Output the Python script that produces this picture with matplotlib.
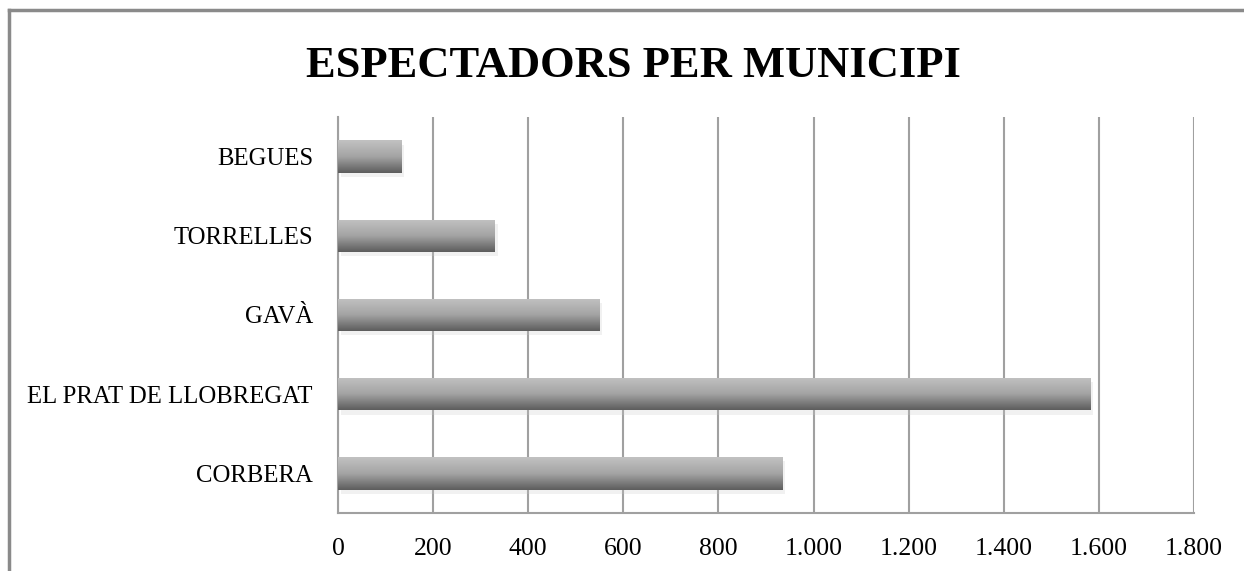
import numpy as np
import matplotlib
matplotlib.use("Agg")
import matplotlib.pyplot as plt
import matplotlib.patheffects as pe
from matplotlib.lines import Line2D

municipis = ["CORBERA", "EL PRAT DE LLOBREGAT", "GAVÀ", "TORRELLES", "BEGUES"]
espectadors = [935, 1582, 550, 330, 133]
x_ticks = [0, 200, 400, 600, 800, 1000, 1200, 1400, 1600, 1800]
x_tick_labels = ["0", "200", "400", "600", "800", "1.000", "1.200", "1.400", "1.600", "1.800"]
title = "ESPECTADORS PER MUNICIPI"


def main():
    fig = plt.figure(figsize=(12.44, 5.71), dpi=100)
    ax = fig.add_axes([0.2717, 0.1016, 0.6881, 0.6935])

    pos = np.arange(len(municipis))
    bars = ax.barh(pos, espectadors, height=0.41, color="#909090", zorder=3,
                   path_effects=[pe.SimplePatchShadow(offset=(2, -3), shadow_rgbFace="#c8c8c8", alpha=0.25),
                                 pe.Normal()])

    # vertical gradient inside each bar, light on top, dark below
    grad = np.linspace(0, 1, 256).reshape(-1, 1)
    cmap = matplotlib.colors.LinearSegmentedColormap.from_list("g", ["#c2c2c2", "#a4a4a4", "#5c5c5c"])
    for b in bars:
        x0, y0 = b.get_x(), b.get_y()
        w, h = b.get_width(), b.get_height()
        im = ax.imshow(grad, cmap=cmap, aspect="auto", origin="lower",
                       extent=[x0, x0 + w, y0 + h, y0], zorder=4, interpolation="bicubic")
        im.set_clip_path(b)

    ax.set_xlim(0, 1800)
    ax.set_ylim(-0.5, len(municipis) - 0.5)
    ax.set_xticks(x_ticks)
    ax.set_xticklabels(x_tick_labels)
    ax.set_yticks(pos)
    ax.set_yticklabels(municipis)
    ax.xaxis.grid(True, color="#a0a0a0", linewidth=1.5, zorder=0)
    ax.set_axisbelow(True)
    ax.tick_params(axis="y", length=0, labelsize=17.8, pad=18)
    ax.tick_params(axis="x", length=0, labelsize=18.5, pad=18)
    for lbl in ax.get_xticklabels() + ax.get_yticklabels():
        lbl.set_fontfamily("Liberation Serif")
    for s in ["top", "right"]:
        ax.spines[s].set_visible(False)
    for s in ["left", "bottom"]:
        ax.spines[s].set_color("#a0a0a0")
        ax.spines[s].set_linewidth(1.5)

    fig.text(0.5095, 0.885, title, ha="center", va="center", fontsize=32,
             fontweight="bold", fontfamily="Liberation Serif")

    # outer chart frame, cropped on right and bottom
    fig.add_artist(Line2D([9 / 1244, 9 / 1244], [0, 1 - 10 / 571], color="#8a8a8a", linewidth=2.5))
    fig.add_artist(Line2D([9 / 1244, 1], [1 - 10 / 571, 1 - 10 / 571], color="#8a8a8a", linewidth=2.5))

    fig.savefig("out.png", dpi=100)


if __name__ == "__main__":
    main()
